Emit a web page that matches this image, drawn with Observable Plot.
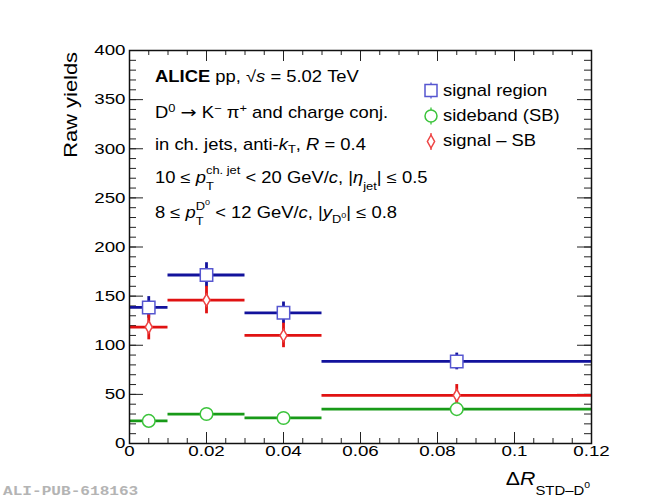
<!DOCTYPE html>
<html><head><meta charset="utf-8">
<script src="https://cdn.jsdelivr.net/npm/d3@7"></script>
<script src="https://cdn.jsdelivr.net/npm/@observablehq/plot@0.6"></script>
<style>body{margin:0;background:#fff}</style>
</head><body><div id="chart"></div>
<script>
// ---- data ----
const binLow = [0, 0.01, 0.03, 0.05];
const binHigh = [0.01, 0.03, 0.05, 0.12];
const binCenter = [0.005, 0.02, 0.04, 0.085];
const signalYield = [138.5, 171.5, 133, 83.5];
const signalErr = [11, 12.5, 11, 8.5];
const sidebandYield = [23, 30, 26, 35];
const sidebandErr = [3, 3, 3, 3];
const subtractedYield = [118.5, 146, 110, 49];
const subtractedErr = [13, 14, 12.5, 11];
const seriesNames = ["signal region", "sideband (SB)", "signal \u2013 SB"];
const xTickValues = [0, 0.02, 0.04, 0.06, 0.08, 0.1, 0.12];
const xTickLabels = ["0", "0.02", "0.04", "0.06", "0.08", "0.1", "0.12"];
const yTickValues = [0, 50, 100, 150, 200, 250, 300, 350, 400];
const yTickLabels = ["0", "50", "100", "150", "200", "250", "300", "350", "400"];

// ---- layout / style ----
const W = 650, H = 500, mL = 129, mR = 59, mT = 50, mB = 57;
const pw = W - mL - mR, ph = H - mT - mB;
const FONT = "'Liberation Sans', Arial, Helvetica, sans-serif";
const S = 1.15; // horizontal glyph stretch of the reference typeface

const bins = binLow.map((lo, i) => ({
  lo, hi: binHigh[i], c: binCenter[i],
  sig: signalYield[i], sigE: signalErr[i],
  sb: sidebandYield[i], sbE: sidebandErr[i],
  sub: subtractedYield[i], subE: subtractedErr[i]
}));
const series = [
  {key: "sig", err: "sigE", line: "#12129c", marker: "#5656d0", symbol: "square", r: 7},
  {key: "sb", err: "sbE", line: "#189a18", marker: "#3cc43c", symbol: "circle", r: 6.3},
  {key: "sub", err: "subE", line: "#e01212", marker: "#ee4444", symbol: "diamond", r: 3.7}
];
const xMinor = d3.range(0, 25).map(i => i * 0.005);
const yMinor = d3.range(0, 41).map(i => i * 10);
const xLab = new Map(xTickValues.map((v, i) => [v, xTickLabels[i]]));
const yLab = new Map(yTickValues.map((v, i) => [v, yTickLabels[i]]));

const marks = [];
// ticks (inward, all four sides)
marks.push(Plot.tickX(xMinor, {x: d => d, insetTop: ph - 5, stroke: "#222", strokeWidth: 1}));
marks.push(Plot.tickX(xTickValues, {x: d => d, insetTop: ph - 11, stroke: "#222", strokeWidth: 1}));
marks.push(Plot.tickX(xMinor, {x: d => d, insetBottom: ph - 5, stroke: "#222", strokeWidth: 1}));
marks.push(Plot.tickX(xTickValues, {x: d => d, insetBottom: ph - 11, stroke: "#222", strokeWidth: 1}));
marks.push(Plot.tickY(yMinor, {y: d => d, insetRight: pw - 7, stroke: "#222", strokeWidth: 1}));
marks.push(Plot.tickY(yTickValues, {y: d => d, insetRight: pw - 14, stroke: "#222", strokeWidth: 1}));
marks.push(Plot.tickY(yMinor, {y: d => d, insetLeft: pw - 7, stroke: "#222", strokeWidth: 1}));
marks.push(Plot.tickY(yTickValues, {y: d => d, insetLeft: pw - 14, stroke: "#222", strokeWidth: 1}));
// bins + errors
for (const s of series) {
  marks.push(Plot.ruleY(bins, {y: s.key, x1: "lo", x2: "hi", stroke: s.line, strokeWidth: 2.8}));
  marks.push(Plot.ruleX(bins, {x: "c", y1: d => d[s.key] - d[s.err], y2: d => d[s.key] + d[s.err], stroke: s.line, strokeWidth: 2.8}));
}
for (const s of series) {
  marks.push(Plot.dot(bins, {x: "c", y: s.key, symbol: s.symbol, r: s.r, fill: "white", stroke: s.marker, strokeWidth: 1.5}));
}
marks.push(Plot.frame({stroke: "#111", strokeWidth: 1.5}));
marks.push(Plot.axisX(xTickValues, {anchor: "bottom", tickSize: 0, tickPadding: 2, tickFormat: d => xLab.get(d), label: null, fill: "black"}));
marks.push(Plot.axisY(yTickValues, {anchor: "left", tickSize: 0, tickPadding: 4, tickFormat: d => yLab.get(d), label: null, fill: "black"}));

const svg = Plot.plot({
  width: W, height: H,
  marginLeft: mL, marginRight: mR, marginTop: mT, marginBottom: mB,
  x: {domain: [0, 0.12], axis: null},
  y: {domain: [0, 400], axis: null},
  style: {fontFamily: FONT, fontSize: "15px", background: "white", color: "black"},
  marks
});
document.getElementById("chart").appendChild(svg);

// stretch tick labels horizontally like the reference typeface
const TS = 1.25;
svg.querySelectorAll("text").forEach(el => {
  let t = el.getAttribute("transform");
  if (!t) {
    const x = el.getAttribute("x") || 0, y = el.getAttribute("y") || 0;
    el.removeAttribute("x"); el.removeAttribute("y");
    t = `translate(${x},${y})`;
  }
  el.setAttribute("transform", t + ` scale(${TS},1)`);
});

// ---- text helpers ----
const NS = "http://www.w3.org/2000/svg";
const layer = document.createElementNS(NS, "g");
layer.setAttribute("font-family", FONT);
layer.setAttribute("fill", "black");
layer.setAttribute("text-anchor", "start");
layer.setAttribute("font-variant", "normal");
svg.appendChild(layer);

function renderParts(g, parts, x, y, size) {
  let cx = x;
  for (const p of parts) {
    if (typeof p === "string" || p.t !== undefined) {
      const s = typeof p === "string" ? p : p.t;
      const el = document.createElementNS(NS, "text");
      el.setAttribute("x", cx); el.setAttribute("y", y);
      el.setAttribute("font-size", size * (p.k || 1));
      el.setAttribute("text-anchor", "start");
      if (p.b) el.setAttribute("font-weight", "bold");
      if (p.i) el.setAttribute("font-style", "italic");
      if (p.f) el.setAttribute("font-family", p.f);
      el.style.whiteSpace = "pre";
      el.textContent = s.replace(/ /g, "\u00a0");
      g.appendChild(el);
      cx += el.getComputedTextLength();
    } else if (p.sup) {
      cx += renderParts(g, p.sup, cx, y - (p.rise ?? 0.38) * size, size * 0.7);
    } else if (p.sub) {
      cx += renderParts(g, p.sub, cx, y + (p.drop ?? 0.3) * size, size * 0.7);
    } else if (p.stack) {
      const w1 = renderParts(g, p.stack[0], cx, y - (p.rise ?? 0.56) * size, size * 0.7);
      const w2 = renderParts(g, p.stack[1], cx, y + (p.drop ?? 0.44) * size, size * 0.7);
      cx += Math.max(w1, w2);
    }
  }
  return cx - x;
}
function addLine(x, y, size, parts, {anchor = "start", stretch = S, rotate = 0, fill = null, weight = null, family = null} = {}) {
  const g = document.createElementNS(NS, "g");
  if (fill) g.setAttribute("fill", fill);
  if (weight) g.setAttribute("font-weight", weight);
  if (family) g.setAttribute("font-family", family);
  layer.appendChild(g);
  const w = renderParts(g, parts, 0, 0, size);
  const shift = anchor === "end" ? -w : 0;
  g.setAttribute("transform", `translate(${x},${y}) rotate(${rotate}) scale(${stretch},1) translate(${shift},0)`);
  return g;
}

// ---- annotation block ----
const TX = 155, TF = 16;
addLine(TX, 82, TF, [{t: "ALICE", b: true}, " pp, \u221A", {t: "s", i: true}, " = 5.02 TeV"]);
addLine(TX, 118, TF, ["D", {sup: ["0"]}, " ", {t: "\u2192", f: "'DejaVu Sans', sans-serif", k: 1.05}, " K", {sup: ["\u2212"]}, " \u03C0", {sup: ["+"]}, " and charge conj."]);
addLine(TX, 150, TF, ["in ch. jets, anti-", {t: "k", i: true}, {sub: ["T"], drop: 0.18}, ", ", {t: "R", i: true}, " = 0.4"]);
addLine(TX, 183, TF, ["10 \u2264 ", {t: "p", i: true}, {stack: [["ch. jet"], ["T"]]}, " < 20 GeV/", {t: "c", i: true}, ", |", {t: "\u03B7", i: true}, {sub: ["jet"], drop: 0.42}, "| \u2264 0.5"]);
addLine(TX, 218, TF, ["8 \u2264 ", {t: "p", i: true}, {stack: [["D", {sup: ["0"], rise: 0.45}], ["T"]], rise: 0.5}, " < 12 GeV/", {t: "c", i: true}, ", |", {t: "y", i: true}, {sub: ["D", {sup: ["0"], rise: 0.45}], drop: 0.3}, "| \u2264 0.8"]);

// ---- legend ----
const legendRows = [
  {name: seriesNames[0], cy: 90.5, base: 96, s: series[0]},
  {name: seriesNames[1], cy: 116, base: 121, s: series[1]},
  {name: seriesNames[2], cy: 141.5, base: 146, s: series[2]}
];
const LX = 431;
for (const row of legendRows) {
  const hh = row.s.symbol === "square" ? 6 : 6.5;
  const stub = document.createElementNS(NS, "line");
  stub.setAttribute("x1", LX); stub.setAttribute("x2", LX);
  stub.setAttribute("y1", row.cy - hh - 2); stub.setAttribute("y2", row.cy + hh + 2);
  stub.setAttribute("stroke", row.s.marker); stub.setAttribute("stroke-width", 1.3);
  layer.appendChild(stub);
  let m;
  if (row.s.symbol === "square") {
    m = document.createElementNS(NS, "rect");
    m.setAttribute("x", LX - 6); m.setAttribute("y", row.cy - 6);
    m.setAttribute("width", 12); m.setAttribute("height", 12);
  } else if (row.s.symbol === "circle") {
    m = document.createElementNS(NS, "circle");
    m.setAttribute("cx", LX); m.setAttribute("cy", row.cy); m.setAttribute("r", 6);
  } else {
    m = document.createElementNS(NS, "path");
    m.setAttribute("d", `M${LX},${row.cy - 6.5}L${LX + 3.6},${row.cy}L${LX},${row.cy + 6.5}L${LX - 3.6},${row.cy}Z`);
  }
  m.setAttribute("fill", "white"); m.setAttribute("stroke", row.s.marker); m.setAttribute("stroke-width", 1.5);
  layer.appendChild(m);
  addLine(443, row.base, 16, [row.name]);
}

// ---- axis titles ----
addLine(77, 52, 19, ["Raw yields"], {anchor: "end", rotate: -90, stretch: 1.15});
addLine(590, 485, 19, ["\u0394", {t: "R", i: true}, {sub: ["STD\u2013D", {sup: ["0"], rise: 0.5}], drop: 0.52}], {anchor: "end", stretch: 1.12});

// ---- watermark ----
addLine(3, 495, 12.5, ["ALI-PUB-618163"], {stretch: 1.29, fill: "#b4b4b4", weight: "bold", family: "'Liberation Mono', 'DejaVu Sans Mono', monospace"});
</script>
</body></html>
